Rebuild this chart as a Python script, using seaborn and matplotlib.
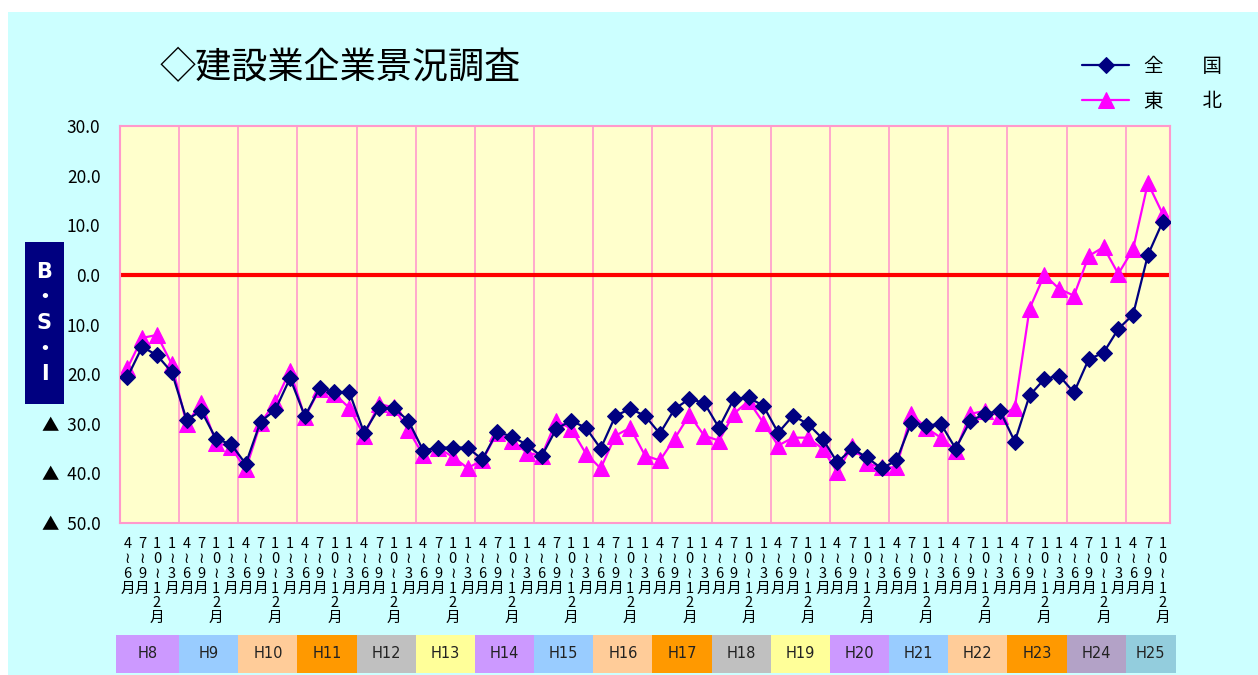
import matplotlib.pyplot as plt
import seaborn as sns
import pandas as pd
import numpy as np
from matplotlib.patches import Rectangle
from matplotlib.transforms import blended_transform_factory

sns.set_theme(style="white")
plt.rcParams['font.family'] = ['Noto Sans CJK JP', 'DejaVu Sans']
plt.rcParams['text.color'] = 'black'
plt.rcParams['xtick.labelcolor'] = 'black'
plt.rcParams['ytick.labelcolor'] = 'black'

# fiscal years and quarter labels (vertical text)
years = ['H8', 'H9', 'H10', 'H11', 'H12', 'H13', 'H14', 'H15', 'H16',
         'H17', 'H18', 'H19', 'H20', 'H21', 'H22', 'H23', 'H24', 'H25']
year_colors = ['#CC99FF', '#99CCFF', '#FFCC99', '#FF9900', '#C0C0C0', '#FFFF99',
               '#CC99FF', '#99CCFF', '#FFCC99', '#FF9900', '#C0C0C0', '#FFFF99',
               '#CC99FF', '#99CCFF', '#FFCC99', '#FF9900', '#B3A2C7', '#93CDDD']
quarters = ["4\n≀\n6\n月", "7\n≀\n9\n月", "1\n0\n≀\n1\n2\n月", "1\n≀\n3\n月"]
tick_labels = quarters * 17 + quarters[:3]
ytick_vals = [-50, -40, -30, -20, -10, 0, 10, 20, 30]
ytick_labels = ['▲  50.0', '▲  40.0', '▲  30.0', '20.0', '10.0', '0.0', '10.0', '20.0', '30.0']

# B.S.I values
zenkoku = [-20.6, -14.5, -16.2, -19.6, -29.2, -27.4, -33.1, -34.1, -38.1, -29.6, -27.2, -20.8,
           -28.5, -22.8, -23.6, -23.6, -31.8, -26.9, -26.8, -29.4, -35.4, -34.8, -34.8, -34.8,
           -37.2, -31.6, -32.6, -34.2, -36.6, -31.0, -29.4, -30.8, -35.0, -28.4, -27.0, -28.4,
           -32.0, -27.0, -25.0, -25.8, -30.8, -25.0, -24.7, -26.4, -31.8, -28.4, -30.0, -33.0,
           -37.8, -35.0, -36.8, -39.0, -37.4, -29.8, -30.4, -30.0, -35.0, -29.4, -28.0, -27.4,
           -33.6, -24.3, -21.0, -20.3, -23.7, -17.0, -15.7, -10.9, -8.0, 4.0, 10.7]
tohoku = [-18.8, -12.7, -12.1, -18.0, -30.0, -25.8, -33.8, -34.7, -39.2, -29.9, -25.6, -19.3,
          -28.7, -23.0, -24.0, -26.8, -32.4, -26.0, -26.7, -31.3, -36.3, -34.8, -36.7, -38.9,
          -37.4, -31.8, -33.4, -35.8, -36.5, -29.4, -31.0, -36.0, -39.0, -32.4, -30.8, -36.4,
          -37.4, -33.0, -28.2, -32.4, -33.4, -28.0, -25.4, -29.8, -34.4, -32.8, -32.8, -35.0,
          -39.8, -34.4, -38.0, -38.8, -38.8, -28.0, -30.8, -32.8, -35.4, -28.0, -27.4, -28.4,
          -26.8, -6.8, 0.0, -2.8, -4.2, 3.8, 5.6, 0.2, 5.2, 18.5, 12.3]

df = pd.DataFrame({'idx': np.arange(len(zenkoku)), 'zenkoku': zenkoku, 'tohoku': tohoku})

fig = plt.figure(figsize=(12.58, 6.75), dpi=100, facecolor='white')
fig.patches.append(Rectangle((8 / 1258, 0), 1, 1 - 12 / 675, transform=fig.transFigure,
                             facecolor='#CCFFFF', edgecolor='none', zorder=-10))
ax = fig.add_axes([0.0954, 0.2252, 0.8347, 0.5881])
ax.set_facecolor('#FFFFCC')

pink = '#FF99CC'
for b in np.arange(3.5, 68, 4):
    ax.axvline(b, color=pink, lw=1.2, zorder=0.5)
ax.axhline(0, color='red', lw=3, zorder=1)

sns.lineplot(data=df, x='idx', y='zenkoku', ax=ax, color='#000080', marker='D',
             markersize=8, markeredgecolor='#000080', linewidth=1.6, label='全　　国', zorder=3)
sns.lineplot(data=df, x='idx', y='tohoku', ax=ax, color='#FF00FF', marker='^',
             markersize=11, markeredgecolor='#FF00FF', linewidth=1.6, label='東　　北', zorder=2)

ax.set_xlim(-0.5, 70.5)
ax.set_ylim(-50, 30)
ax.set_xlabel(None)
ax.set_ylabel(None)
ax.set_xticks(df['idx'])
ax.set_xticklabels(tick_labels, fontsize=10.5, linespacing=1.08)
ax.tick_params(axis='x', length=0, pad=10)
ax.set_yticks(ytick_vals)
ax.set_yticklabels(ytick_labels, fontsize=12.5)
ax.tick_params(axis='y', direction='in', color=pink, length=4, pad=14)
for s in ax.spines.values():
    s.set_color(pink)
    s.set_linewidth(1.5)

# fiscal year boxes under the axis
trans = blended_transform_factory(ax.transData, ax.transAxes)
edges = [4 * k - 0.5 for k in range(len(years))] + [70.9]
edges[0] = -0.8
for k, (yr, c) in enumerate(zip(years, year_colors)):
    ax.add_patch(Rectangle((edges[k], -0.378), edges[k + 1] - edges[k], 0.096,
                           transform=trans, facecolor=c, edgecolor='none', clip_on=False))
    ax.text((edges[k] + edges[k + 1]) / 2, -0.33, yr, transform=trans, ha='center',
            va='center', fontsize=10.5, color='#222222', family='DejaVu Sans')

# B.S.I label box
fig.patches.append(Rectangle((25 / 1258, 1 - 404 / 675), 39 / 1258, 162 / 675,
                             transform=fig.transFigure, facecolor='#000080', edgecolor='none'))
fig.text(44.5 / 1258, 1 - 323 / 675, 'B\n・\nS\n・\nI', color='white', fontsize=15,
         fontweight='bold', ha='center', va='center', linespacing=1.35,
         family=['DejaVu Sans', 'Noto Sans CJK JP'])

fig.text(160 / 1258, 1 - 68 / 675, '◇建設業企業景況調査', fontsize=26, ha='left', va='center',
         color='black')

ax.legend(loc='upper right', bbox_to_anchor=(1240 / 1258, 1 - 38 / 675),
          bbox_transform=fig.transFigure, frameon=False, fontsize=14,
          handlelength=2.4, labelspacing=0.75, labelcolor='black')

fig.savefig('out.png', dpi=100)
